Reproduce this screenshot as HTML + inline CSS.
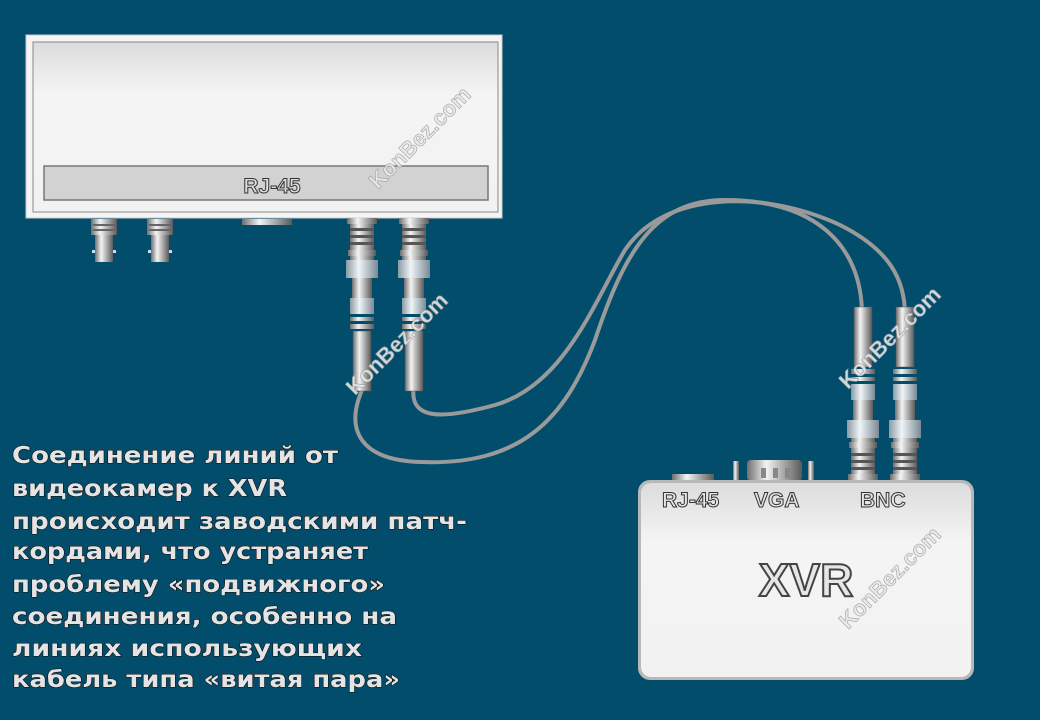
<!DOCTYPE html>
<html><head><meta charset="utf-8"><style>
html,body{margin:0;padding:0;background:#024d6c;}
svg{display:block}
</style></head><body>
<svg width="1040" height="720" viewBox="0 0 1040 720" xmlns="http://www.w3.org/2000/svg">
<defs>
<linearGradient id="m" x1="0" x2="1" y1="0" y2="0">
<stop offset="0" stop-color="#6e6e6e"/><stop offset="0.35" stop-color="#f4f4f4"/><stop offset="0.6" stop-color="#b8b8b8"/><stop offset="1" stop-color="#5a5a5a"/>
</linearGradient>
<linearGradient id="k" x1="0" x2="1" y1="0" y2="0">
<stop offset="0" stop-color="#8a9aa6"/><stop offset="0.4" stop-color="#f0f4f6"/><stop offset="1" stop-color="#7a8a96"/>
</linearGradient>
<linearGradient id="box" x1="0" x2="0" y1="0" y2="1">
<stop offset="0" stop-color="#dcdcdc"/><stop offset="0.3" stop-color="#f4f4f4"/><stop offset="1" stop-color="#f2f2f2"/>
</linearGradient>
<g id="conn">
<rect x="-15" y="0" width="30" height="6" fill="url(#m)"/>
<rect x="-12" y="6" width="24" height="36" fill="url(#m)"/>
<rect x="-12" y="10" width="24" height="3" fill="#555"/>
<rect x="-12" y="17" width="24" height="3" fill="#555"/>
<rect x="-12" y="24" width="24" height="3" fill="#555"/>
<rect x="-14" y="32" width="28" height="6" fill="url(#m)"/>
<rect x="-16" y="42" width="32" height="18" fill="url(#k)"/>
<rect x="-10" y="60" width="20" height="20" fill="url(#m)"/>
<rect x="-12" y="80" width="24" height="16" fill="url(#k)"/>
<rect x="-12" y="99" width="24" height="4" fill="url(#m)"/>
<rect x="-12" y="106" width="24" height="5" fill="url(#m)"/>
<rect x="-9" y="113" width="18" height="60" fill="url(#m)" stroke="#555" stroke-width="0.5"/>
</g>
<g id="short">
<rect x="-13" y="0" width="26" height="16" fill="url(#m)"/>
<rect x="-11" y="5" width="22" height="2" fill="#666"/>
<rect x="-11" y="10" width="22" height="2" fill="#666"/>
<rect x="-9" y="16" width="18" height="27" fill="url(#m)"/>
<rect x="-12" y="31" width="3" height="3" fill="#cde"/>
<rect x="9" y="31" width="3" height="3" fill="#cde"/>
</g>
</defs>
<rect width="1040" height="720" fill="#024d6c"/>

<!-- cables -->
<path d="M362,390 C345,430 360,460 420,462 C520,466 565,420 595,340 C625,250 655,200 725,200 C815,200 862,245 862,315" fill="none" stroke="#9a9a9a" stroke-width="4"/>
<path d="M414,385 C408,420 440,420 495,405 C565,385 595,300 625,250 C665,190 765,190 840,225 C890,250 905,280 905,315" fill="none" stroke="#9a9a9a" stroke-width="4"/>

<!-- top device -->
<rect x="26" y="35" width="476" height="183" fill="#f6f4f4" stroke="#ccc"/>
<rect x="33" y="42" width="465" height="170" fill="url(#box)" stroke="#888" stroke-width="1"/>
<rect x="44" y="166" width="444" height="34" fill="#d2d2d2" stroke="#777" stroke-width="1.5"/>
<text x="272" y="193" text-anchor="middle" font-family="Liberation Sans, sans-serif" font-weight="bold" font-size="21" fill="#e0e0e0" stroke="#333" stroke-width="1">RJ-45</text>
<rect x="242" y="219" width="50" height="6" fill="url(#m)"/>
<use href="#short" x="104" y="219"/>
<use href="#short" x="160" y="219"/>
<use href="#conn" x="362" y="218"/>
<use href="#conn" x="414" y="218"/>

<g transform="translate(863,480) scale(1,-1)"><use href="#conn"/></g>
<g transform="translate(905,480) scale(1,-1)"><use href="#conn"/></g>

<rect x="672" y="474" width="42" height="8" fill="url(#m)"/>
<rect x="733" y="461" width="6" height="20" fill="url(#m)"/>
<rect x="808" y="461" width="6" height="20" fill="url(#m)"/>
<rect x="747" y="460" width="55" height="21" rx="4" fill="url(#m)"/>
<rect x="761" y="468" width="5" height="10" fill="#888"/>
<rect x="773" y="468" width="5" height="10" fill="#888"/>
<rect x="785" y="468" width="5" height="10" fill="#888"/>

<rect x="638" y="480" width="336" height="200" rx="12" fill="#b8b8b8"/>
<rect x="641" y="483" width="330" height="194" rx="10" fill="url(#box)"/>
<g font-family="Liberation Sans, sans-serif" font-weight="bold" fill="#e6e6e6" stroke="#333" stroke-width="1">
<text x="662" y="507" font-size="21">RJ-45</text>
<text x="754" y="507" font-size="21">VGA</text>
<text x="860" y="507" font-size="21">BNC</text>
<text x="806" y="596" text-anchor="middle" font-size="46" stroke="#444" stroke-width="2">XVR</text>
</g>

<g font-family="Liberation Sans, sans-serif" font-weight="bold" font-size="22" fill="#e8e8e8" stroke="#999" stroke-width="0.6" opacity="0.9">
<text transform="translate(378,190) rotate(-45)">KonBez.com</text>
<text transform="translate(355,396) rotate(-45)">KonBez.com</text>
<text transform="translate(848,390) rotate(-45)">KonBez.com</text>
<text transform="translate(848,630) rotate(-45)">KonBez.com</text>
</g>

<g font-family="DejaVu Sans, sans-serif" font-weight="bold" font-size="23" fill="#e4e4e4" stroke="#111" stroke-width="1.1" paint-order="stroke">
<text x="12" y="463" textLength="326" lengthAdjust="spacingAndGlyphs">Соединение линий от</text>
<text x="12" y="496" textLength="275" lengthAdjust="spacingAndGlyphs">видеокамер к XVR</text>
<text x="12" y="529" textLength="455" lengthAdjust="spacingAndGlyphs">происходит заводскими патч-</text>
<text x="12" y="559" textLength="356" lengthAdjust="spacingAndGlyphs">кордами, что устраняет</text>
<text x="12" y="592" textLength="373" lengthAdjust="spacingAndGlyphs">проблему «подвижного»</text>
<text x="12" y="624" textLength="385" lengthAdjust="spacingAndGlyphs">соединения, особенно на</text>
<text x="12" y="656" textLength="350" lengthAdjust="spacingAndGlyphs">линиях использующих</text>
<text x="12" y="687" textLength="388" lengthAdjust="spacingAndGlyphs">кабель типа «витая пара»</text>
</g>
</svg>
</body></html>
